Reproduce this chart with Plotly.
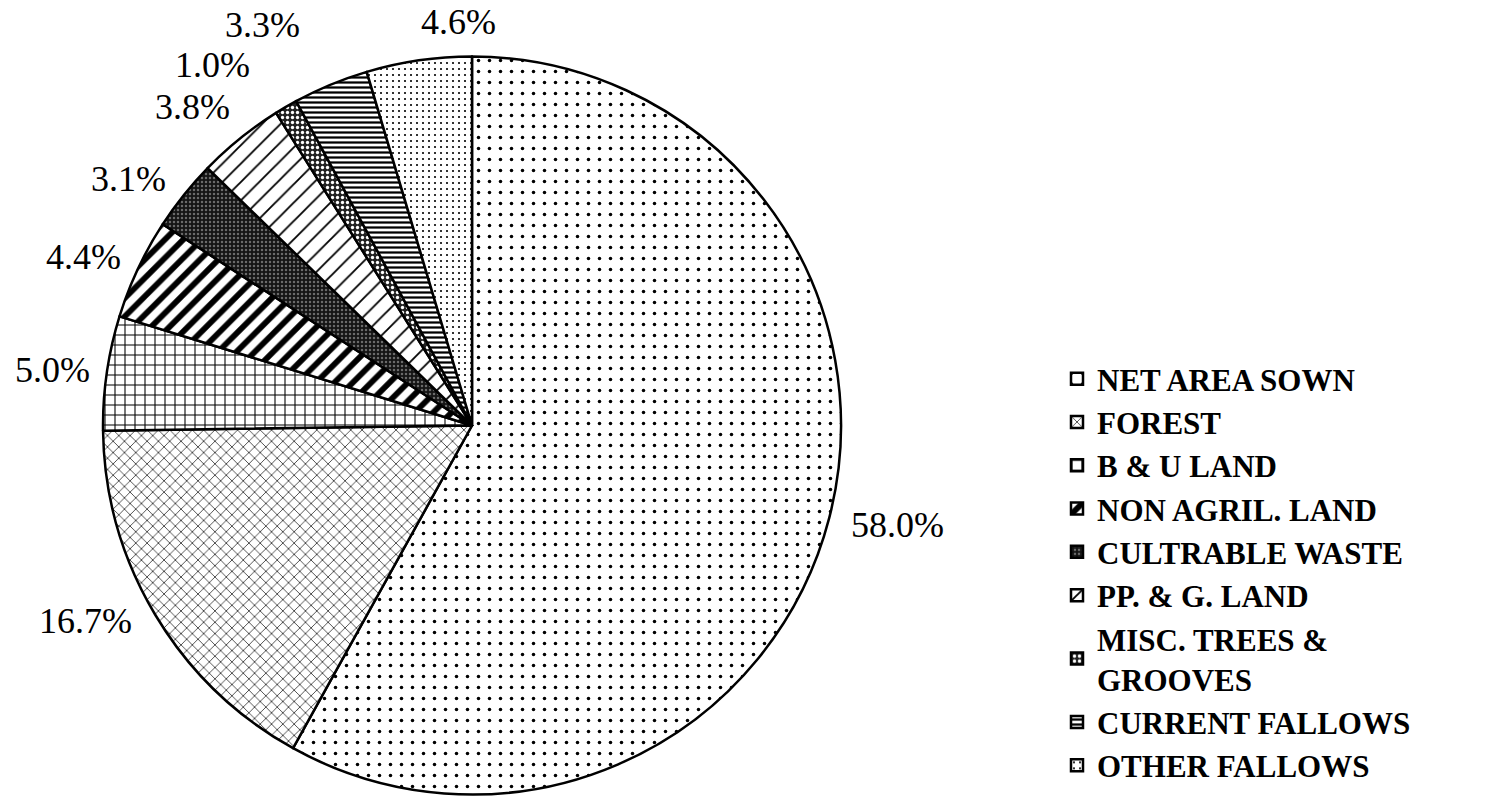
import math
import plotly.graph_objects as go

categories = ["NET AREA SOWN", "FOREST", "B & U LAND", "NON AGRIL. LAND",
              "CULTRABLE WASTE", "PP. & G. LAND", "MISC. TREES &<br>GROOVES",
              "CURRENT FALLOWS", "OTHER FALLOWS"]
values = [58.0, 16.7, 5.0, 4.4, 3.1, 3.8, 1.0, 3.3, 4.6]

# fill styles
pattern_shapes = [".", "x", "+", "/", ".", "/", ".", "-", "."]
pattern_sizes = [11, 8, 10, 13, 4, 13, 5, 5, 6]
pattern_solidity = [0.08, 0.16, 0.2, 0.45, 0.3, 0.14, 0.35, 0.45, 0.1]
pattern_fg = ["black", "black", "black", "black", "#6a6a6a", "black", "white", "black", "black"]
pattern_bg = ["white", "white", "white", "white", "#141414", "white", "#222222", "white", "white"]

# label nudges (px) to avoid crowding, as in the original layout
label_dx = [8, -11, -3, -4, -6, -1, -28, -24, 41]
label_dy = [4, 0, -1, -7, -9, -22, -31, -49, -4]

W, H = 1488, 802
cx, cy, r = 472, 425.5, 369
SERIF = "Liberation Serif, Times New Roman, serif"

fig = go.Figure(go.Pie(
    labels=categories,
    values=values,
    sort=False,
    direction="clockwise",
    rotation=0,
    textinfo="none",
    marker=dict(
        colors=["white"] * len(values),
        line=dict(color="black", width=2.5),
        pattern=dict(shape=pattern_shapes, size=pattern_sizes,
                     solidity=pattern_solidity, fgcolor=pattern_fg,
                     bgcolor=pattern_bg, fillmode="replace"),
    ),
    domain=dict(x=[(cx - r) / W, (cx + r) / W], y=[1 - (cy + r) / H, 1 - (cy - r) / H]),
    hoverinfo="label+value",
))

# percentage labels placed just outside each slice's mid-angle
total = sum(values)
cum = 0.0
pad = 12
for i, v in enumerate(values):
    mid = (cum + v / 2) / total * 2 * math.pi
    cum += v
    dx, dy = math.sin(mid), -math.cos(mid)
    px = cx + (r + pad) * dx + label_dx[i]
    py = cy + (r + pad) * dy + label_dy[i]
    if dx > 0.3:
        xa, ya = "left", "middle"
    elif dx < -0.3:
        xa, ya = "right", "middle"
    else:
        xa, ya = "center", "bottom"
    fig.add_annotation(
        x=px / W, y=1 - py / H, xref="paper", yref="paper",
        text=f"{v:.1f}%", showarrow=False, xanchor=xa, yanchor=ya,
        font=dict(family=SERIF, size=36, color="black"),
    )

fig.update_layout(
    width=W, height=H,
    margin=dict(l=0, r=0, t=0, b=0, autoexpand=False),
    paper_bgcolor="white",
    plot_bgcolor="white",
    showlegend=True,
    legend=dict(
        x=1057 / W, y=1 - 352 / H, xanchor="left", yanchor="top",
        font=dict(family=SERIF, size=31, color="black", weight="bold"),
        itemwidth=30, tracegroupgap=0, bgcolor="rgba(0,0,0,0)",
    ),
)

fig.write_html("out.html", config={"displayModeBar": False},
               post_script="document.body.style.margin='0px';")
